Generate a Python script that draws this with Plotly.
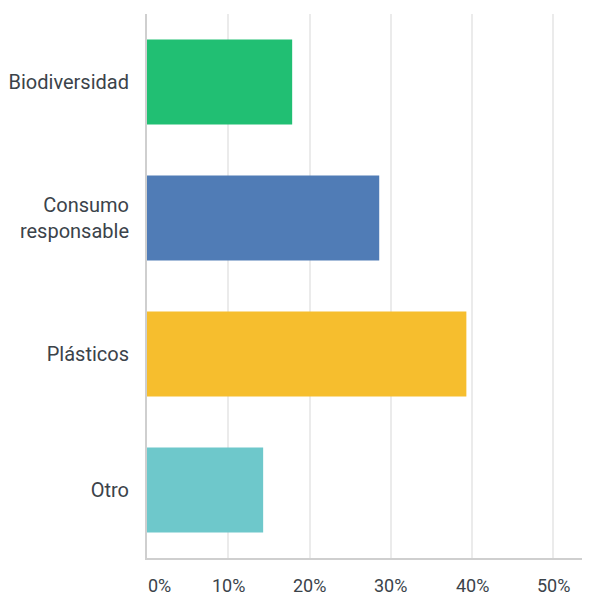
import plotly.graph_objects as go

categories = ["Biodiversidad", "Consumo<br>responsable", "Plásticos", "Otro"]
values = [17.86, 28.57, 39.29, 14.29]
colors = ["#21BF73", "#507CB6", "#F6BE2E", "#6EC8CB"]
tick_values = [0, 10, 20, 30, 40, 50]
tick_labels = [f"{v}%" for v in tick_values]

text_color = "#3B434A"
font_family = "Roboto"

fig = go.Figure(
    go.Bar(
        x=values,
        y=categories,
        orientation="h",
        marker=dict(color=colors, line=dict(width=0)),
        hoverinfo="skip",
    )
)

annotations = []
for v, t in zip(tick_values, tick_labels):
    annotations.append(
        dict(
            x=v, y=0, xref="x", yref="paper", text=t, showarrow=False,
            xanchor="left" if v == 0 else "center", yanchor="bottom",
            yshift=-38.5, borderpad=0,
            font=dict(size=18, color=text_color, family=font_family),
        )
    )

# The page body has an 8px margin; offsets below compensate for it.
fig.update_layout(
    width=582,
    height=589,
    margin=dict(l=139, r=0, t=6, b=39),
    paper_bgcolor="white",
    plot_bgcolor="white",
    bargap=0.375,
    showlegend=False,
    font=dict(family=font_family, size=20, color=text_color),
    annotations=annotations,
    xaxis=dict(
        range=[0, 54.5],
        tickvals=tick_values,
        showticklabels=False,
        showgrid=True,
        gridcolor="#EBEBEB",
        gridwidth=1.5,
        zeroline=False,
        showline=True,
        linecolor="#CFCFCF",
        linewidth=2,
        fixedrange=True,
    ),
    yaxis=dict(
        categoryorder="array",
        categoryarray=categories,
        autorange="reversed",
        showgrid=False,
        zeroline=False,
        showline=True,
        linecolor="#CFCFCF",
        linewidth=2,
        ticks="",
        ticklabelstandoff=12,
        tickfont=dict(size=20, color=text_color, family=font_family),
        fixedrange=True,
    ),
)

fig.write_html("out.html", config={"displayModeBar": False})
